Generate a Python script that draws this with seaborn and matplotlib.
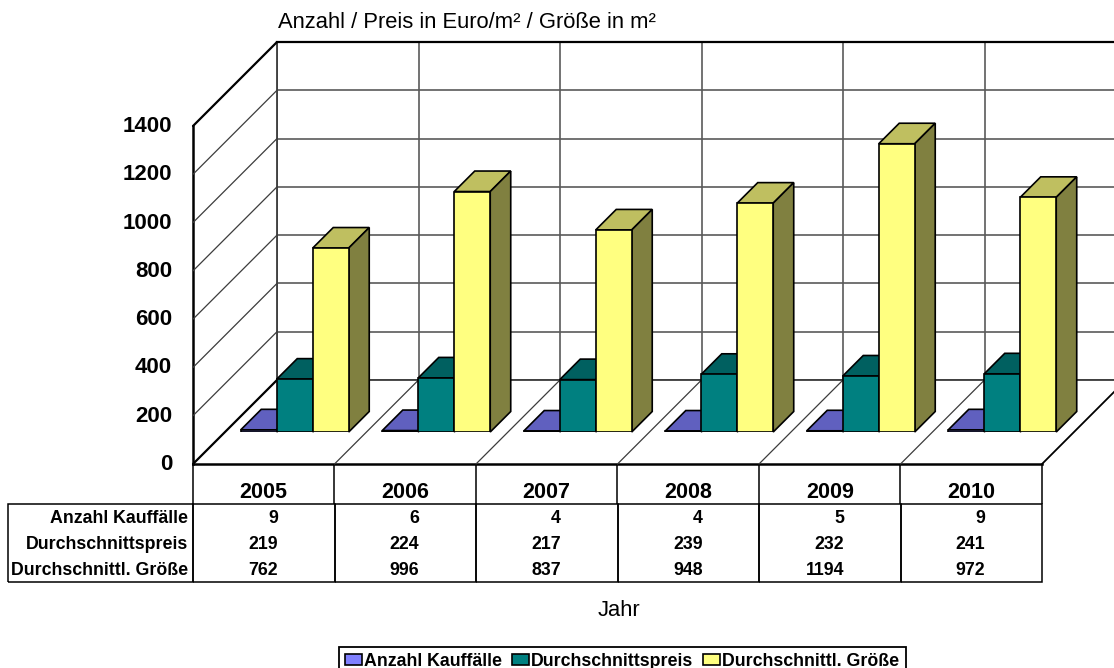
import matplotlib
matplotlib.use('Agg')
import matplotlib.pyplot as plt
from matplotlib.patches import Polygon
from matplotlib.transforms import ScaledTranslation
import pandas as pd
import seaborn as sns

jahre = ['2005', '2006', '2007', '2008', '2009', '2010']
kauffaelle = [9, 6, 4, 4, 5, 9]
preise = [219, 224, 217, 239, 232, 241]
groessen = [762, 996, 837, 948, 1194, 972]
reihen = ['Anzahl Kauffälle', 'Durchschnittspreis', 'Durchschnittl. Größe']
farben = ['#8080FF', '#008080', '#FFFF80']
y_ticks = [0, 200, 400, 600, 800, 1000, 1200, 1400]

W, H = 1114, 668
sns.set_theme(style='white')
plt.rcParams['font.family'] = ['Liberation Sans', 'DejaVu Sans']

# Geometrie der Excel-3D-Ansicht in Pixeln
FX0, FX1, FY0, FY1 = 193, 1042, 464, 126   # vordere Ebene
TIEFE = 84       # Wand hinter der vorderen Ebene
BAR_OFF = 32     # Balken stehen so weit hinter der Vorderkante
BAR_TIEFE = 20.5


def ax_px(l, t, r, b, **kw):
    return fig.add_axes([l / W, 1 - b / H, (r - l) / W, (b - t) / H], **kw)


df = pd.DataFrame({'Jahr': jahre * 3,
                   'Wert': kauffaelle + preise + groessen,
                   'Reihe': [r for r in reihen for _ in jahre]})

fig = plt.figure(figsize=(W / 100, H / 100), dpi=100, facecolor='white')
spalte = (FX1 - FX0) / len(jahre)

# Rueckwand
back = ax_px(FX0 + TIEFE, FY1 - TIEFE, FX1 + TIEFE, FY0 - TIEFE, zorder=1)
back.set_xlim(0, len(jahre))
back.set_ylim(0, 1400)
back.set_xticks(range(len(jahre) + 1))
back.set_yticks(y_ticks)
back.set_xticklabels([])
back.set_yticklabels([])
back.tick_params(length=0)
back.grid(True, color='#5a5a5a', lw=1.2)
for s in back.spines.values():
    s.set_color('#3c3c3c')
    s.set_linewidth(1.3)
back.spines['top'].set_color('black')
back.spines['top'].set_linewidth(1.6)
back.spines['right'].set_visible(False)

# Ueberlagerung fuer Diagonalen und Balkenseiten, Pixelkoordinaten
over = ax_px(0, 0, W, H, zorder=2)
over.set_xlim(0, W)
over.set_ylim(H, 0)
over.set_axis_off()
over.patch.set_alpha(0)
skala = (FY0 - FY1) / 1400
for v in y_ticks:
    y = FY0 - v * skala
    rand = v in (0, 1400)
    over.plot([FX0, FX0 + TIEFE], [y, y - TIEFE], color='black' if rand else '#3c3c3c',
              lw=1.6 if rand else 0.9)
for i in range(1, len(jahre) + 1):
    x = FX0 + i * spalte
    rand = i == len(jahre)
    over.plot([x, x + TIEFE], [FY0, FY0 - TIEFE], color='black' if rand else '#3c3c3c',
              lw=1.3 if rand else 0.9)

# Vordere Ebene mit Achse
front = ax_px(FX0, FY1, FX1, FY0, zorder=0)
front.patch.set_alpha(0)
front.set_xlim(0, len(jahre))
front.set_ylim(0, 1400)
front.set_yticks(y_ticks)
front.set_yticklabels([str(v) for v in y_ticks], fontsize=16, fontweight='bold', color='black')
front.tick_params(axis='y', length=0, pad=15)
hoch = ScaledTranslation(0, 2 / 100, fig.dpi_scale_trans)
for label in front.get_yticklabels():
    label.set_transform(label.get_transform() + hoch)
front.set_xticks([i + 0.5 for i in range(len(jahre))])
front.set_xticklabels(jahre, fontsize=15.5, fontweight='bold', color='black')
front.set_xticks(range(len(jahre) + 1), minor=True)
front.tick_params(axis='x', which='major', length=0, pad=13)
front.tick_params(axis='x', which='minor', bottom=True, length=28.5, width=1.1, color='black', direction='out')
sns.despine(ax=front, top=True, right=True)
front.spines['left'].set_color('black')
front.spines['left'].set_linewidth(1.8)
front.spines['bottom'].set_color('black')
front.spines['bottom'].set_linewidth(1.8)

# Balken
bars = ax_px(FX0 + BAR_OFF - 1, FY1 - BAR_OFF, FX1 + BAR_OFF - 1, FY0 - BAR_OFF, zorder=3)
sns.barplot(data=df, x='Jahr', y='Wert', hue='Reihe', hue_order=reihen, palette=farben,
            saturation=1, width=0.763, gap=0, edgecolor='black', linewidth=1.2, ax=bars)
bars.set_xlim(-0.5, len(jahre) - 0.5)
bars.set_ylim(0, 1400)
# Unterkante der Legende liegt wie im Original ausserhalb des Bildes
sns.move_legend(bars, loc='upper left', bbox_to_anchor=(339 / W, 1 - 646.5 / H),
                bbox_transform=fig.transFigure, ncol=3, title=None, frameon=True,
                prop={'weight': 'bold', 'size': 12.8}, fancybox=False, edgecolor='black',
                framealpha=1, borderpad=0.35, handlelength=0.95, handleheight=0.56,
                handletextpad=0.12, columnspacing=0.56, borderaxespad=0)
bars.get_legend().get_frame().set_linewidth(1.3)
for t in bars.get_legend().get_texts():
    t.set_color('black')
bars.set_axis_off()
fig.canvas.draw()


def px(ax, x, y):
    p = ax.transData.transform((x, y))
    return p[0], H - p[1]


def abdunkeln(farbe, f):
    r, g, b = matplotlib.colors.to_rgb(farbe)
    return (r * f, g * f, b * f)


for cont, farbe in zip(bars.containers, farben):
    for rect in cont:
        x0, y1 = px(bars, rect.get_x(), rect.get_height())
        x1, y0 = px(bars, rect.get_x() + rect.get_width(), 0)
        d = BAR_TIEFE
        over.add_patch(Polygon([(x0, y1), (x0 + d, y1 - d), (x1 + d, y1 - d), (x1, y1)],
                               fc=abdunkeln(farbe, 0.75), ec='black', lw=1.2, zorder=5))
        over.add_patch(Polygon([(x1, y1), (x1 + d, y1 - d), (x1 + d, y0 - d), (x1, y0)],
                               fc=abdunkeln(farbe, 0.5), ec='black', lw=1.2, zorder=5))

# Datentabelle
tab_ax = ax_px(7.5, 503.5, FX1, 582, zorder=4)
tab_ax.set_axis_off()
zeilen = [[r] + [str(v) for v in werte] for r, werte in zip(reihen, [kauffaelle, preise, groessen])]
breite_links = FX0 - 7.5
tab = tab_ax.table(cellText=zeilen, colWidths=[breite_links] + [spalte] * len(jahre),
                   cellLoc='right', bbox=[0, 0, 1, 1])
tab.auto_set_font_size(False)
for (r, c), cell in tab.get_celld().items():
    cell.set_text_props(fontweight='bold', fontsize=12.8, color='black', va='center_baseline')
    cell.set_edgecolor('black')
    cell.set_linewidth(1.1)
    cell.set_facecolor('none')
    cell.PAD = 5 / breite_links if c == 0 else 1 - 85 / spalte
    cell.visible_edges = {0: 'TLR', 1: 'LR', 2: 'BLR'}[r]

fig.text(278 / W, 1 - 22 / H, 'Anzahl / Preis in Euro/m² / Größe in m²', fontsize=15.8, va='center', color='black')
fig.text(618.5 / W, 1 - 610 / H, 'Jahr', fontsize=15.8, ha='center', va='center', color='black')

fig.savefig('out.png', dpi=100)
